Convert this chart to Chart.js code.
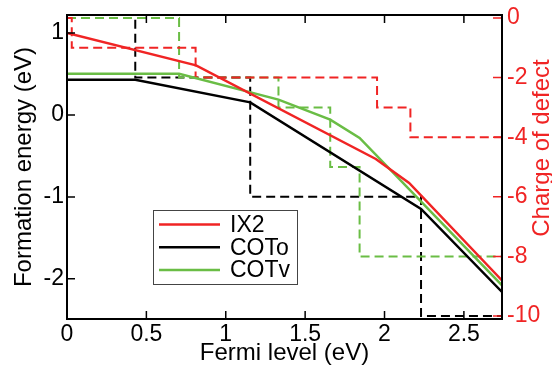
<!DOCTYPE html>
<html>
<head>
<meta charset="utf-8">
<script src="https://cdn.jsdelivr.net/npm/chart.js@4.4.0/dist/chart.umd.min.js"></script>
<style>
html,body{margin:0;padding:0;background:#fff;}
#wrap{width:552px;height:371px;}
</style>
</head>
<body>
<div id="wrap"><canvas id="chart" width="552" height="371"></canvas></div>
<script>
// axis ticks
const xTicks=[0,0.5,1,1.5,2,2.5];
const energyTicks=[-2,-1,0,1];
const chargeTicks=[0,-2,-4,-6,-8,-10];

// formation energy (left axis)
const ix2X=[0,0.813,1.945,2.155,2.74];
const ix2E=[1.0,0.605,-0.537,-0.829,-2.02];
const cotoX=[0,0.43,1.154,2.23,2.74];
const cotoE=[0.43,0.43,0.154,-1.146,-2.16];
const cotvX=[0,0.706,1.332,1.658,1.843,2.74];
const cotvE=[0.504,0.504,0.187,-0.057,-0.28,-2.08];

// charge of defect (right axis), steps
const ix2QX=[0,0.03,0.81,1.953,2.163,2.74];
const ix2Q=[0,-1,-2,-3,-4,-4];
const cotoQX=[0,0.43,1.154,2.23,2.74];
const cotoQ=[0,-2,-6,-10,-10];
const cotvQX=[0,0.706,1.332,1.658,1.843,2.74];
const cotvQ=[0,-2,-3,-5,-8,-8];

const names=['IX2','COTo','COTv'];
const RED='#f02424', BLACK='#000000', GREEN='#6abd45';
const colors=[RED,BLACK,GREEN];
const FONT='"Liberation Sans", Arial, Helvetica, sans-serif';

function pts(xs,ys){return xs.map((x,i)=>({x:x,y:ys[i]}));}

function solid(label,xs,ys,color){
    return {label:label,data:pts(xs,ys),borderColor:color,borderWidth:2.5,
        pointRadius:0,yAxisID:'y',tension:0,order:1};
}
function dashed(label,xs,ys,color){
    return {label:label,data:pts(xs,ys),borderColor:color,borderWidth:2,
        borderDash:[9,5],pointRadius:0,yAxisID:'y2',stepped:true,order:2};
}

const decor={
    id:'decor',
    afterDatasetsDraw(chart){
        const {ctx,chartArea:a,scales}=chart;
        ctx.save();
        // frame
        ctx.strokeStyle='#000';
        ctx.lineWidth=2;
        ctx.strokeRect(a.left,a.top,a.right-a.left,a.bottom-a.top);
        // inward tick marks
        ctx.lineWidth=1.5;
        ctx.beginPath();
        xTicks.forEach(v=>{
            const px=scales.x.getPixelForValue(v);
            ctx.moveTo(px,a.bottom);ctx.lineTo(px,a.bottom-8);
            ctx.moveTo(px,a.top);ctx.lineTo(px,a.top+8);
        });
        energyTicks.forEach(v=>{
            const py=scales.y.getPixelForValue(v);
            ctx.moveTo(a.left,py);ctx.lineTo(a.left+8,py);
        });
        ctx.stroke();
        ctx.strokeStyle=RED;
        ctx.beginPath();
        chargeTicks.forEach(v=>{
            const py=scales.y2.getPixelForValue(v);
            ctx.moveTo(a.right-1,py);ctx.lineTo(a.right-9,py);
        });
        ctx.stroke();

        // legend box
        const lx=a.left+86, ly=a.top+195, lw=144, lh=74;
        ctx.fillStyle='#fff';
        ctx.fillRect(lx,ly,lw,lh);
        ctx.strokeStyle='#444';
        ctx.lineWidth=1;
        ctx.strokeRect(lx+0.5,ly+0.5,lw,lh);
        ctx.font='23px '+FONT;
        ctx.textBaseline='middle';
        ctx.textAlign='left';
        names.forEach((n,i)=>{
            const yy=ly+14.5+i*22.8;
            ctx.strokeStyle=colors[i];
            ctx.lineWidth=2.5;
            ctx.beginPath();
            ctx.moveTo(lx+6,yy);ctx.lineTo(lx+67,yy);
            ctx.stroke();
            ctx.fillStyle='#000';
            ctx.fillText(n,lx+77,yy+1);
        });
        ctx.restore();
    },
    afterDraw(chart){
        // right axis title, reading bottom to top
        const {ctx}=chart;
        ctx.save();
        ctx.translate(549,148);
        ctx.rotate(-Math.PI/2);
        ctx.font='24px '+FONT;
        ctx.fillStyle=RED;
        ctx.textAlign='center';
        ctx.textBaseline='alphabetic';
        ctx.fillText('Charge of defect',0,0);
        ctx.restore();
    }
};

const chart=document.querySelector('#chart').getContext('2d');

// first dataset of each order group is drawn on top
new Chart(chart,{
    type:'line',
    data:{
        datasets:[
            solid(names[0],ix2X,ix2E,RED),
            solid(names[1],cotoX,cotoE,BLACK),
            solid(names[2],cotvX,cotvE,GREEN),
            dashed(names[0]+' charge',ix2QX,ix2Q,RED),
            dashed(names[2]+' charge',cotvQX,cotvQ,GREEN),
            dashed(names[1]+' charge',cotoQX,cotoQ,BLACK)
        ]
    },
    options:{
        responsive:false,
        animation:false,
        devicePixelRatio:1,
        layout:{padding:{top:15,left:0,right:0,bottom:0}},
        plugins:{legend:{display:false},tooltip:{enabled:false}},
        scales:{
            x:{
                type:'linear',min:0,max:2.74,
                afterBuildTicks:s=>{s.ticks=xTicks.map(v=>({value:v}));},
                afterFit:s=>{s.height=52;s.paddingLeft=0;s.paddingRight=0;},
                grid:{display:false,drawTicks:false},
                border:{display:false},
                ticks:{color:'#000',padding:2,font:{family:FONT,size:23},maxRotation:0,
                    callback:v=>String(v)},
                title:{display:true,text:'Fermi level (eV)',color:'#000',
                    font:{family:FONT,size:24},padding:{top:0,bottom:3}}
            },
            y:{
                type:'linear',position:'left',min:-2.49,max:1.22,
                afterBuildTicks:s=>{s.ticks=energyTicks.map(v=>({value:v}));},
                afterFit:s=>{s.width=67;s.paddingTop=0;s.paddingBottom=0;},
                grid:{display:false,drawTicks:false},
                border:{display:false},
                ticks:{color:'#000',padding:3,font:{family:FONT,size:23},
                    callback:v=>String(v)},
                title:{display:true,text:'Formation energy (eV)',color:'#000',
                    font:{family:FONT,size:24},padding:{top:10,bottom:0}}
            },
            y2:{
                type:'linear',position:'right',min:-10.1,max:0.1,
                afterBuildTicks:s=>{s.ticks=chargeTicks.map(v=>({value:v}));},
                afterFit:s=>{s.width=50;s.paddingTop=0;s.paddingBottom=0;},
                grid:{display:false,drawTicks:false},
                border:{display:false},
                ticks:{color:RED,padding:5,font:{family:FONT,size:23},
                    callback:v=>String(v)},
                title:{display:false}
            }
        }
    },
    plugins:[decor]
});
</script>
</body>
</html>
